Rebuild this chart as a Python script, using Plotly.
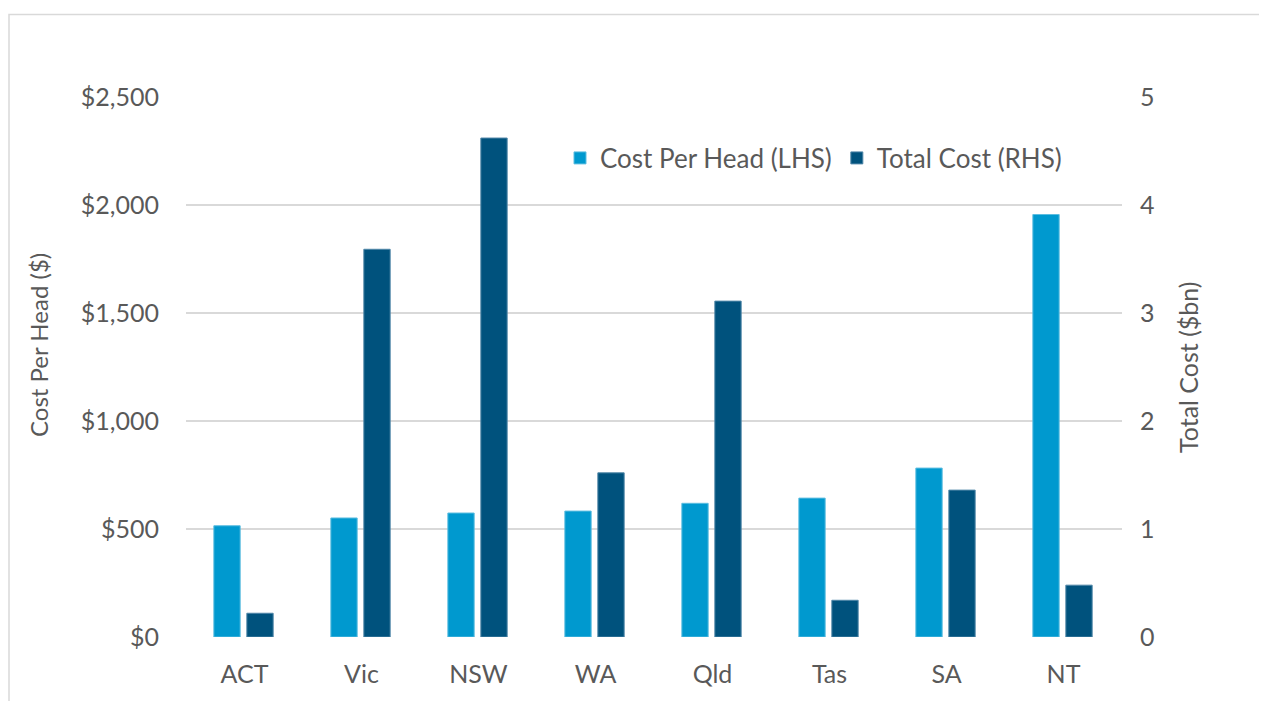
import plotly.graph_objects as go

states = ["ACT", "Vic", "NSW", "WA", "Qld", "Tas", "SA", "NT"]
cost_per_head = [515, 551, 574, 583, 619, 643, 782, 1956]
total_cost_bn = [0.22, 3.59, 4.62, 1.52, 3.11, 0.34, 1.36, 0.48]
left_ticks = [0, 500, 1000, 1500, 2000, 2500]
left_tick_labels = ["$0", "$500", "$1,000", "$1,500", "$2,000", "$2,500"]
right_ticks = [0, 1, 2, 3, 4, 5]

LIGHT = "#0099cf"
DARK = "#00527d"
TXT = "#595959"
FONT = "Lato"

# page offset of the figure (body margin) is ~8px; plot area in page px: x 186-1122, y 97-637
L, T = 178, 89
W, H = 1267, 701
PW, PH = 936, 540


def px_x(x):
    return (x - 8 - L) / PW


def px_y(y):
    return (T + PH - (y - 8)) / PH


fig = go.Figure()
fig.add_trace(go.Bar(
    x=states, y=cost_per_head, name="Cost Per Head (LHS)",
    marker=dict(color=LIGHT, line=dict(color="#5cbde0", width=1)),
    width=0.225, offset=-0.262, yaxis="y",
))
fig.add_trace(go.Bar(
    x=states, y=total_cost_bn, name="Total Cost (RHS)",
    marker=dict(color=DARK, line=dict(color="#4f86a8", width=1)),
    width=0.225, offset=0.020, yaxis="y2",
))

fig.update_layout(
    width=W, height=H,
    margin=dict(l=L, r=W - L - PW, t=T, b=H - T - PH),
    paper_bgcolor="white", plot_bgcolor="white",
    font=dict(family=FONT, color=TXT, size=25),
    showlegend=True,
    legend=dict(orientation="h", x=px_x(560), y=px_y(158), xanchor="left", yanchor="middle",
                font=dict(size=26, color=TXT), bgcolor="rgba(0,0,0,0)",
                itemwidth=30, traceorder="normal"),
    xaxis=dict(showgrid=False, showline=False, ticks="", ticklabelstandoff=20,
               tickfont=dict(size=25, color=TXT)),
    yaxis=dict(range=[0, 2500], tickvals=left_ticks, ticktext=left_tick_labels,
               showgrid=True, gridcolor="#d9d9d9", gridwidth=1.5, zeroline=False,
               showline=False, ticks="", ticklabelstandoff=26,
               tickfont=dict(size=25, color=TXT)),
    yaxis2=dict(range=[0, 5], tickvals=right_ticks, overlaying="y", side="right",
                showgrid=False, zeroline=False, showline=False, ticks="",
                ticklabelstandoff=17, tickfont=dict(size=25, color=TXT)),
    annotations=[
        dict(text="Cost Per Head ($)", textangle=-90, xref="paper", yref="paper",
             x=px_x(38), y=px_y(345), xanchor="center", yanchor="middle",
             showarrow=False, font=dict(size=24, color=TXT)),
        dict(text="Total Cost ($bn)", textangle=-90, xref="paper", yref="paper",
             x=px_x(1188), y=px_y(367), xanchor="center", yanchor="middle",
             showarrow=False, font=dict(size=25, color=TXT)),
    ],
    shapes=[dict(type="rect", xref="paper", yref="paper",
                 x0=px_x(9), x1=px_x(1300),
                 y0=px_y(730), y1=px_y(14.5),
                 line=dict(color="#d9d9d9", width=1.5), layer="below")],
)

fig.write_html("out.html")
